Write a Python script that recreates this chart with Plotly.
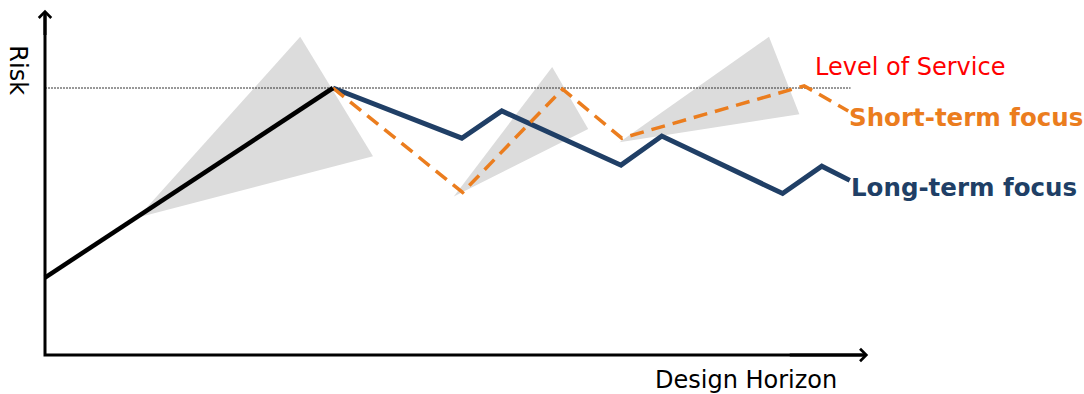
import plotly.graph_objects as go

# ---- data (horizon units, risk units) ----
level_of_service = 10.0

past_x = [0.0, 3.6]
past_y = [2.9, 10.0]

long_x = [3.6, 5.21, 5.71, 7.2, 7.71, 9.22, 9.71, 10.06]
long_y = [10.0, 8.12, 9.14, 7.11, 8.2, 6.05, 7.07, 6.54]

short_x = [3.6, 5.22, 6.47, 7.21, 9.49, 10.04]
short_y = [10.0, 6.09, 9.96, 8.12, 10.08, 9.14]

cone1_x = [1.16, 3.19, 4.10]
cone1_y = [5.15, 11.92, 7.44]
cone2_x = [5.11, 6.34, 6.79]
cone2_y = [5.94, 10.79, 8.46]
cone3_x = [7.18, 9.05, 9.43]
cone3_y = [7.97, 11.92, 9.02]

x_axis_end = 10.29
y_axis_end = 12.93
los_end = 10.07

BLUE = "#203F66"
ORANGE = "#EB7D1E"
GREY = "#DCDCDC"
FONT = "DejaVu Sans"

fig = go.Figure()

for cx, cy in [(cone1_x, cone1_y), (cone2_x, cone2_y), (cone3_x, cone3_y)]:
    fig.add_trace(go.Scatter(x=cx + [cx[0]], y=cy + [cy[0]], mode="lines",
                             fill="toself", fillcolor=GREY,
                             line=dict(width=0, color=GREY), hoverinfo="skip"))

# level of service dotted line
fig.add_trace(go.Scatter(x=[0, los_end], y=[level_of_service, level_of_service],
                         mode="lines", line=dict(color="#333333", width=1, dash="2px,1px")))

fig.add_trace(go.Scatter(x=long_x, y=long_y, mode="lines",
                         line=dict(color=BLUE, width=5)))
fig.add_trace(go.Scatter(x=short_x, y=short_y, mode="lines",
                         line=dict(color=ORANGE, width=3.5, dash="14px,8px")))
fig.add_trace(go.Scatter(x=past_x, y=past_y, mode="lines",
                         line=dict(color="black", width=4.5)))

# axes with arrows
fig.add_trace(go.Scatter(x=[0, 0, x_axis_end - 0.05], y=[y_axis_end - 0.2, 0, 0], mode="lines",
                         line=dict(color="black", width=3)))
fig.add_annotation(x=x_axis_end, y=0, ax=x_axis_end - 1, ay=0, xref="x", yref="y",
                   axref="x", ayref="y", showarrow=True, arrowhead=4, arrowsize=0.8,
                   arrowwidth=3, arrowcolor="black", text="")
fig.add_annotation(x=0, y=y_axis_end, ax=0, ay=y_axis_end - 1, xref="x", yref="y",
                   axref="x", ayref="y", showarrow=True, arrowhead=4, arrowsize=0.8,
                   arrowwidth=3, arrowcolor="black", text="")

# texts
fig.add_annotation(x=-0.34, y=10.67, text="Risk", showarrow=False, textangle=90,
                   font=dict(family=FONT, size=24, color="black"))
fig.add_annotation(x=8.76, y=-0.94, text="Design Horizon", showarrow=False,
                   font=dict(family=FONT, size=24, color="black"))
fig.add_annotation(x=9.6, y=10.79, text="Level of Service", showarrow=False, xanchor="left",
                   font=dict(family=FONT, size=24, color="#FF0000"))
fig.add_annotation(x=10.02, y=8.91, text="<b>Short-term focus</b>", showarrow=False,
                   xanchor="left", font=dict(family=FONT, size=24.5, color=ORANGE))
fig.add_annotation(x=10.05, y=6.29, text="<b>Long-term focus</b>", showarrow=False,
                   xanchor="left", font=dict(family=FONT, size=24.5, color=BLUE))

fig.update_layout(
    width=1084, height=394, margin=dict(l=0, r=0, t=0, b=0),
    paper_bgcolor="white", plot_bgcolor="white", showlegend=False,
    xaxis=dict(range=[-45 / 80, (1084 - 45) / 80], visible=False, fixedrange=True),
    yaxis=dict(range=[(355 - 394) / 26.7, 355 / 26.7], visible=False, fixedrange=True),
)

fig.write_html("out.html")
